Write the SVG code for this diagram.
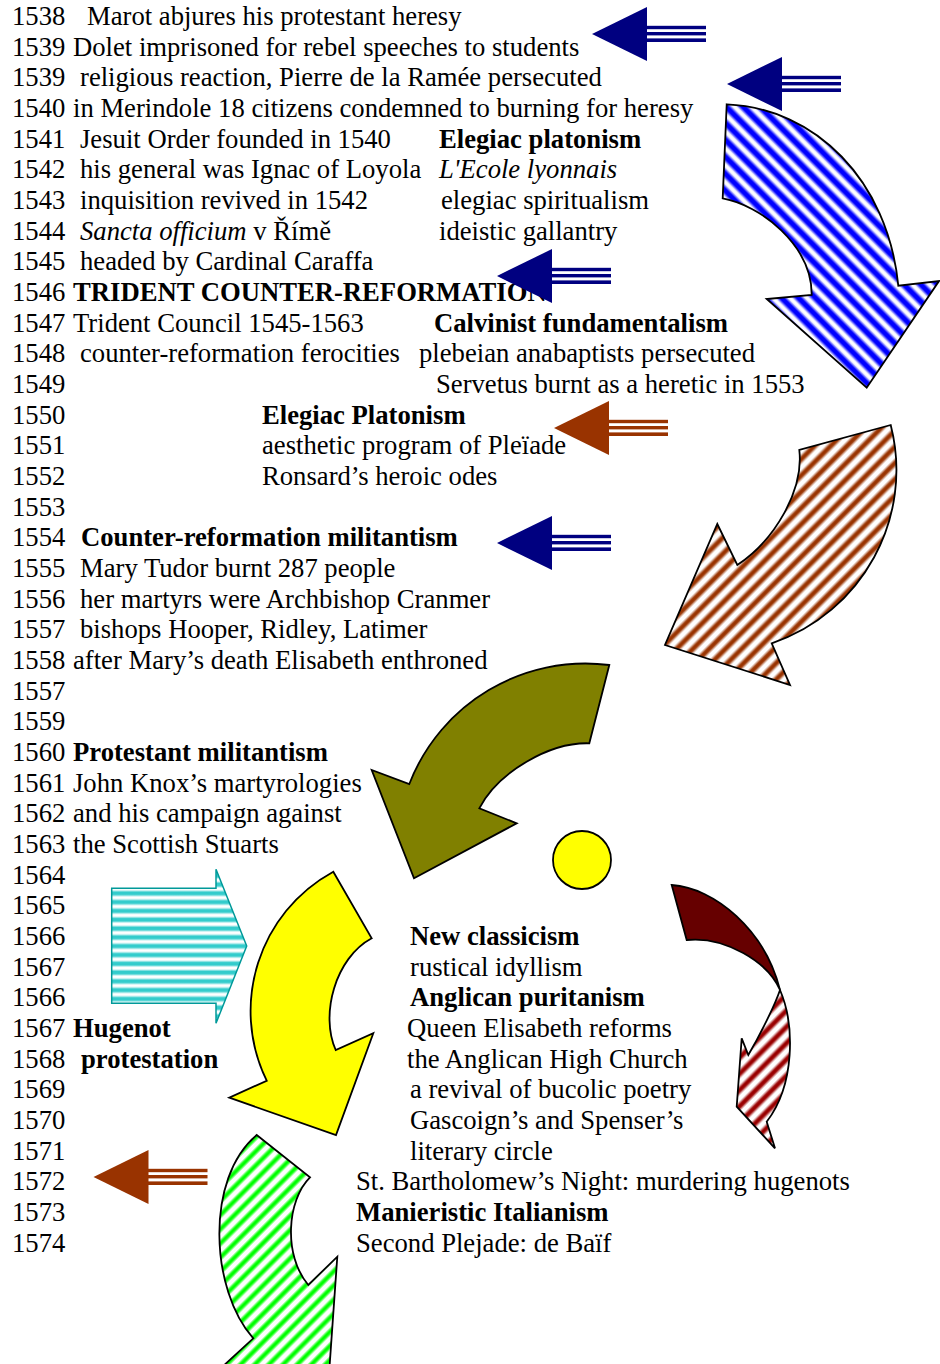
<svg xmlns="http://www.w3.org/2000/svg" xmlns:xlink="http://www.w3.org/1999/xlink" width="940" height="1364" viewBox="0 0 940 1364">
<style>
text{font-family:"Liberation Serif","Times New Roman",serif;font-size:26.67px;fill:#000}
.b{font-weight:bold}
.i{font-style:italic}
.ca{stroke:#000;stroke-width:1.8;stroke-linejoin:miter}
</style>
<defs>
<linearGradient id="gBlue"><stop offset="0" stop-color="#fff"/><stop offset="0.1" stop-color="#fff"/><stop offset="0.36" stop-color="#0000ff"/><stop offset="0.64" stop-color="#0000ff"/><stop offset="0.9" stop-color="#fff"/><stop offset="1" stop-color="#fff"/></linearGradient>
<linearGradient id="gBrown"><stop offset="0" stop-color="#fff"/><stop offset="0.15" stop-color="#fff"/><stop offset="0.4" stop-color="#993300"/><stop offset="0.6" stop-color="#993300"/><stop offset="0.85" stop-color="#fff"/><stop offset="1" stop-color="#fff"/></linearGradient>
<linearGradient id="gGreen"><stop offset="0" stop-color="#fff"/><stop offset="0.15" stop-color="#fff"/><stop offset="0.4" stop-color="#00ff00"/><stop offset="0.6" stop-color="#00ff00"/><stop offset="0.85" stop-color="#fff"/><stop offset="1" stop-color="#fff"/></linearGradient>
<linearGradient id="gRed"><stop offset="0" stop-color="#fff"/><stop offset="0.15" stop-color="#fff"/><stop offset="0.4" stop-color="#990000"/><stop offset="0.6" stop-color="#990000"/><stop offset="0.85" stop-color="#fff"/><stop offset="1" stop-color="#fff"/></linearGradient>
<linearGradient id="gCyan" x1="0" y1="0" x2="0" y2="1"><stop offset="0" stop-color="#fff"/><stop offset="0.12" stop-color="#fff"/><stop offset="0.38" stop-color="#33cccc"/><stop offset="0.66" stop-color="#33cccc"/><stop offset="0.9" stop-color="#fff"/><stop offset="1" stop-color="#fff"/></linearGradient>
<pattern id="pBlue" patternUnits="userSpaceOnUse" width="12" height="12" patternTransform="rotate(-45)"><rect width="12" height="12" fill="url(#gBlue)"/></pattern>
<pattern id="pBrown" patternUnits="userSpaceOnUse" width="11.5" height="11.5" patternTransform="rotate(45)"><rect width="11.5" height="11.5" fill="url(#gBrown)"/></pattern>
<pattern id="pGreen" patternUnits="userSpaceOnUse" width="10" height="10" patternTransform="rotate(45)"><rect width="10" height="10" fill="url(#gGreen)"/></pattern>
<pattern id="pRed" patternUnits="userSpaceOnUse" width="11.5" height="11.5" patternTransform="rotate(45)"><rect width="11.5" height="11.5" fill="url(#gRed)"/></pattern>
<pattern id="pCyan" patternUnits="userSpaceOnUse" width="8.8" height="8.8"><rect width="8.8" height="8.8" fill="url(#gCyan)"/></pattern>
<g id="leftArrow">
<path d="M0,0 L55,-27 L55,27 Z"/>
<rect x="54.5" y="-8.2" width="59.5" height="3.4"/>
<rect x="54.5" y="-2" width="59.5" height="3.4"/>
<rect x="54.5" y="4.4" width="59.5" height="3.6"/>
</g>
</defs>
<rect width="940" height="1364" fill="#fff"/>

<g id="timeline">
<text y="25"><tspan x="12">1538</tspan><tspan x="87">Marot abjures his protestant heresy</tspan></text>
<text y="55.7"><tspan x="12">1539</tspan><tspan x="73">Dolet imprisoned for rebel speeches to students</tspan></text>
<text y="86.3"><tspan x="12">1539</tspan><tspan x="80">religious reaction, Pierre de la Ramée persecuted</tspan></text>
<text y="117"><tspan x="12">1540</tspan><tspan x="73">in Merindole 18 citizens condemned to burning for heresy</tspan></text>
<text y="147.7"><tspan x="12">1541</tspan><tspan x="80">Jesuit Order founded in 1540</tspan></text>
<text y="178.3"><tspan x="12">1542</tspan><tspan x="80">his general was Ignac of Loyola</tspan></text>
<text y="209"><tspan x="12">1543</tspan><tspan x="80">inquisition revived in 1542</tspan></text>
<text y="239.7"><tspan x="12">1544</tspan><tspan x="80" class="i">Sancta officium</tspan> v Římě</text>
<text y="270.3"><tspan x="12">1545</tspan><tspan x="80">headed by Cardinal Caraffa</tspan></text>
<text y="301"><tspan x="12">1546</tspan><tspan x="73" class="b">TRIDENT COUNTER-REFORMATION</tspan></text>
<text y="331.7"><tspan x="12">1547</tspan><tspan x="73">Trident Council 1545-1563</tspan></text>
<text y="362.3"><tspan x="12">1548</tspan><tspan x="80">counter-reformation ferocities</tspan></text>
<text x="12" y="393">1549</text>
<text x="12" y="423.7">1550</text>
<text x="12" y="454.3">1551</text>
<text x="12" y="485">1552</text>
<text x="12" y="515.7">1553</text>
<text y="546.3"><tspan x="12">1554</tspan><tspan x="81" class="b">Counter-reformation militantism</tspan></text>
<text y="577"><tspan x="12">1555</tspan><tspan x="80">Mary Tudor burnt 287 people</tspan></text>
<text y="607.7"><tspan x="12">1556</tspan><tspan x="80">her martyrs were Archbishop Cranmer</tspan></text>
<text y="638.3"><tspan x="12">1557</tspan><tspan x="80">bishops Hooper, Ridley, Latimer</tspan></text>
<text y="669"><tspan x="12">1558</tspan><tspan x="73">after Mary’s death Elisabeth enthroned</tspan></text>
<text x="12" y="699.7">1557</text>
<text x="12" y="730.3">1559</text>
<text y="761"><tspan x="12">1560</tspan><tspan x="73" class="b">Protestant militantism</tspan></text>
<text y="791.7"><tspan x="12">1561</tspan><tspan x="73">John Knox’s martyrologies</tspan></text>
<text y="822.3"><tspan x="12">1562</tspan><tspan x="73">and his campaign against</tspan></text>
<text y="853"><tspan x="12">1563</tspan><tspan x="73">the Scottish Stuarts</tspan></text>
<text x="12" y="883.7">1564</text>
<text x="12" y="914.3">1565</text>
<text x="12" y="945">1566</text>
<text x="12" y="975.7">1567</text>
<text x="12" y="1006.3">1566</text>
<text y="1037"><tspan x="12">1567</tspan><tspan x="73" class="b">Hugenot</tspan></text>
<text y="1067.7"><tspan x="12">1568</tspan><tspan x="81" class="b">protestation</tspan></text>
<text x="12" y="1098.3">1569</text>
<text x="12" y="1129">1570</text>
<text x="12" y="1159.7">1571</text>
<text x="12" y="1190.3">1572</text>
<text x="12" y="1221">1573</text>
<text x="12" y="1251.7">1574</text>
</g>

<g id="labels">
<text x="439" y="147.7" class="b">Elegiac platonism</text>
<text x="439" y="178.3" class="i">L'Ecole lyonnais</text>
<text x="441" y="209">elegiac spiritualism</text>
<text x="439" y="239.7">ideistic gallantry</text>
<text x="434" y="331.7" class="b">Calvinist fundamentalism</text>
<text x="419" y="362.3">plebeian anabaptists persecuted</text>
<text x="436" y="393">Servetus burnt as a heretic in 1553</text>
<text x="262" y="423.7" class="b">Elegiac Platonism</text>
<text x="262" y="454.3">aesthetic program of Pleïade</text>
<text x="262" y="485">Ronsard’s heroic odes</text>
<text x="410" y="945" class="b">New classicism</text>
<text x="410" y="975.7">rustical idyllism</text>
<text x="410" y="1006.3" class="b">Anglican puritanism</text>
<text x="407" y="1037">Queen Elisabeth reforms</text>
<text x="407" y="1067.7">the Anglican High Church</text>
<text x="410" y="1098.3">a revival of bucolic poetry</text>
<text x="410" y="1129">Gascoign’s and Spenser’s</text>
<text x="410" y="1159.7">literary circle</text>
<text x="356" y="1190.3">St. Bartholomew’s Night: murdering hugenots</text>
<text x="356" y="1221" class="b">Manieristic Italianism</text>
<text x="356" y="1251.7">Second Plejade: de Baïf</text>
</g>

<g id="connectors">
<g id="curved-blue"><path class="ca" fill="url(#pBlue)" d="M726.7,104.3 L722.7,198.3 C760,205 812,245 811.7,295 L766.7,299 L866.7,387.7 L939,281 L898.3,285.7 C888,180 815,108 726.7,104.3 Z"/></g>
<g id="curved-brown"><path class="ca" fill="url(#pBrown)" d="M890.7,425 L799.3,450 C804,490 775,540 737.3,565 L717.3,524 L665,645 L790,685 L771.7,643.3 C862,613 914.5,517.6 890.7,425 Z"/></g>
<g id="curved-olive"><path class="ca" fill="#808000" d="M609.3,665 L589.3,743.3 C550,742 498,772 479.3,808.3 L516.7,823.3 L414,878.3 L371.7,770 L409.3,784 C440.7,703.1 523.2,654.1 609.3,665 Z"/></g>
<g id="curved-yellow"><path class="ca" fill="#ffff00" d="M333.3,871.7 L371.7,938.3 C335,958 320,1015 335.7,1050 L373.3,1033.3 L336,1135 L229.3,1097.7 L266.7,1080.7 C229.5,1004.4 258.8,912.4 333.3,871.7 Z"/></g>
<g id="curved-green"><path class="ca" fill="url(#pGreen)" d="M256.7,1135 L310,1177.3 C287,1200 283,1255 308.3,1285 L337.3,1256.7 L328.6,1380 L208,1380 L253.3,1338.3 C210,1290 205,1178 256.7,1135 Z"/></g>
<g id="curved-red">
<path class="ca" fill="url(#pRed)" d="M780,990 C795,1025 795,1085 766.7,1121.7 L775,1148.3 L736.7,1106.7 L741.7,1038.3 L748.3,1055 C760,1035 775,1005 780,990 Z"/>
<path class="ca" fill="#660000" d="M671.7,885 C715,888 765,930 780,990 C768,962 725,936 686.7,940 Z"/>
</g>
<g id="right-cyan"><path fill="url(#pCyan)" stroke="#009999" stroke-width="1.5" d="M111.7,888.3 L216,888.3 L216,869.3 L246.7,946 L216,1023.3 L216,1003.3 L111.7,1003.3 Z"/></g>
<use xlink:href="#leftArrow" transform="translate(592,34)" fill="#000080"/>
<use xlink:href="#leftArrow" transform="translate(727,84)" fill="#000080"/>
<use xlink:href="#leftArrow" transform="translate(497,276)" fill="#000080"/>
<use xlink:href="#leftArrow" transform="translate(554,428)" fill="#993300"/>
<use xlink:href="#leftArrow" transform="translate(497,543)" fill="#000080"/>
<use xlink:href="#leftArrow" transform="translate(93.5,1177)" fill="#993300"/>
</g>
<g id="sun"><circle cx="582" cy="860" r="29" fill="#ffff00" stroke="#000" stroke-width="1.8"/></g>
</svg>
